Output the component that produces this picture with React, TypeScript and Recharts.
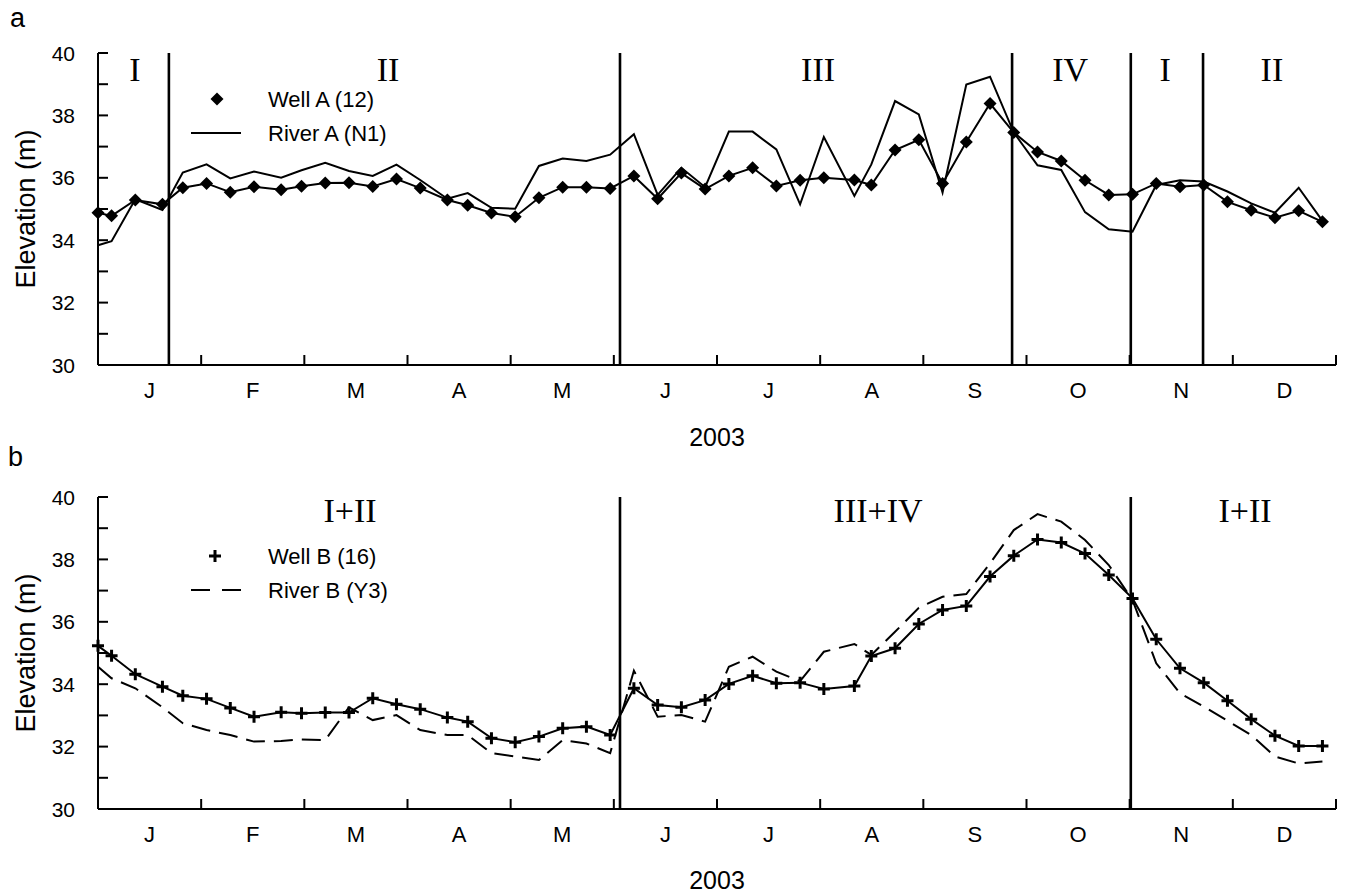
import { Legend, Line, LineChart, ReferenceLine, XAxis, YAxis } from 'recharts';

// sampling days (same dates for both wells), 2003
const DAYS = [
  0, 4, 11, 19, 25, 32, 39, 46, 54, 60, 67, 74, 81, 88, 95, 103, 109, 116, 123, 130, 137, 144, 151,
  158, 165, 172, 179, 186, 193, 200, 207, 214, 223, 228, 235, 242, 249, 256, 263, 270, 277, 284,
  291, 298, 305, 312, 319, 326, 333, 340, 347, 354, 361,
];

const WELL_A = [
  34.88, 34.78, 35.29, 35.15, 35.68, 35.82, 35.54, 35.71, 35.62, 35.73, 35.83, 35.84, 35.72, 35.96,
  35.67, 35.29, 35.12, 34.87, 34.75, 35.36, 35.7, 35.7, 35.66, 36.06, 35.33, 36.15, 35.64, 36.06,
  36.32, 35.74, 35.92, 36.0, 35.93, 35.77, 36.89, 37.22, 35.82, 37.15, 38.38, 37.45, 36.83, 36.54,
  35.92, 35.45, 35.47, 35.82, 35.71, 35.77, 35.23, 34.96, 34.72, 34.94, 34.59,
];
const RIVER_A = [
  33.84, 33.97, 35.31, 34.97, 36.17, 36.43, 35.98, 36.2, 36.0, 36.24, 36.48, 36.22, 36.06, 36.42,
  35.93, 35.33, 35.51, 35.04, 35.01, 36.38, 36.62, 36.54, 36.74, 37.4, 35.45, 36.32, 35.7, 37.48,
  37.48, 36.91, 35.15, 37.31, 35.42, 36.43, 38.46, 38.03, 35.53, 38.99, 39.24, 37.45, 36.4, 36.25,
  34.9, 34.35, 34.27, 35.77, 35.92, 35.88, 35.56, 35.18, 34.88, 35.68, 34.62,
];
const WELL_B = [
  35.23, 34.91, 34.32, 33.92, 33.63, 33.53, 33.24, 32.96, 33.1, 33.07, 33.09, 33.09, 33.55, 33.36,
  33.2, 32.93, 32.8, 32.27, 32.14, 32.32, 32.59, 32.64, 32.37, 33.87, 33.33, 33.26, 33.49, 34.01,
  34.27, 34.03, 34.05, 33.85, 33.94, 34.9, 35.15, 35.93, 36.38, 36.51, 37.45, 38.12, 38.64, 38.54,
  38.19, 37.5, 36.75, 35.44, 34.51, 34.05, 33.47, 32.88, 32.35, 32.02, 32.02,
];
const RIVER_B = [
  34.56, 34.19, 33.87, 33.26, 32.75, 32.53, 32.37, 32.16, 32.18, 32.23, 32.21, 33.26, 32.85, 33.01,
  32.53, 32.37, 32.37, 31.79, 31.68, 31.57, 32.21, 32.1, 31.79, 34.43, 32.96, 33.01, 32.8, 34.56,
  34.88, 34.4, 34.1, 35.04, 35.29, 34.94, 35.68, 36.45, 36.8, 36.89, 37.87, 38.94, 39.45, 39.21,
  38.62, 37.82, 36.7, 34.67, 33.71, 33.28, 32.83, 32.37, 31.68, 31.46, 31.52,
];

const MONTHS = ['J', 'F', 'M', 'A', 'M', 'J', 'J', 'A', 'S', 'O', 'N', 'D'];
const ELEV_TICKS = [30, 31, 32, 33, 34, 35, 36, 37, 38, 39, 40];

// period boundaries and period names (day of year)
const BOUNDS_A = [20.9, 153.9, 269.5, 304.5, 325.8];
const NAMES_A = ['I', 'II', 'III', 'IV', 'I', 'II'];
const NAME_DAYS_A = [10.9, 85.5, 212.3, 286.6, 314.6, 346.1];
const BOUNDS_B = [153.9, 304.5];
const NAMES_B = ['I+II', 'III+IV', 'I+II'];
const NAME_DAYS_B = [74.3, 230, 338.2];

const YEAR = 365;
// month boundaries plus mid-month label positions
const X_TICKS = Array.from({ length: 25 }, (_, i) => (i * YEAR) / 24);

const SANS = '"Liberation Sans", Arial, Helvetica, sans-serif';
const SERIF = '"Liberation Serif", "Times New Roman", serif';
const INK = '#000';

const dataA = DAYS.map((day, i) => ({ day, well: WELL_A[i], river: RIVER_A[i] }));
const dataB = DAYS.map((day, i) => ({ day, well: WELL_B[i], river: RIVER_B[i] }));

function MonthTick(props: any) {
  const { x, y, payload } = props;
  const idx = Math.round((payload.value * 24) / YEAR);
  if (idx % 2 === 0) {
    return <line x1={x} x2={x} y1={y} y2={y - 10} stroke={INK} strokeWidth={2} />;
  }
  return (
    <text x={x} y={y + 33} textAnchor="middle" fontSize={22} fontFamily={SANS} fill={INK}>
      {MONTHS[(idx - 1) / 2]}
    </text>
  );
}

function ElevTick(props: any) {
  const { x, y, payload } = props;
  return (
    <g>
      <line x1={x} x2={x + 10} y1={y} y2={y} stroke={INK} strokeWidth={2} />
      {payload.value % 2 === 0 && (
        <text x={x - 23} y={y} dy="0.36em" textAnchor="end" fontSize={21} fontFamily={SANS} fill={INK}>
          {payload.value}
        </text>
      )}
    </g>
  );
}

function diamond(props: any) {
  const { cx, cy, index } = props;
  const r = 6.5;
  return (
    <path
      key={`dia-${index}`}
      d={`M${cx},${cy - r}L${cx + r},${cy}L${cx},${cy + r}L${cx - r},${cy}Z`}
      fill={INK}
    />
  );
}

function plus(props: any) {
  const { cx, cy, index } = props;
  const r = 6;
  return (
    <path
      key={`plus-${index}`}
      d={`M${cx - r},${cy}H${cx + r}M${cx},${cy - r}V${cy + r}`}
      stroke={INK}
      strokeWidth={3}
      fill="none"
    />
  );
}

function yLabel(props: any) {
  const vb = props.viewBox;
  return (
    <text
      transform={`translate(${vb.x + 26}, ${vb.y + vb.height / 2}) rotate(-90)`}
      textAnchor="middle"
      dominantBaseline="central"
      fontSize={27}
      fontFamily={SANS}
      fill={INK}
    >
      Elevation (m)
    </text>
  );
}

type KeyRow = { label: string; kind: 'diamond' | 'plus' | 'solid' | 'dashed' };

function SeriesKey({ rows }: { rows: KeyRow[] }) {
  return (
    <svg width={260} height={75}>
      {rows.map((row, i) => {
        const cy = 19 + i * 34;
        let icon;
        if (row.kind === 'diamond') icon = diamond({ cx: 37, cy, index: i });
        else if (row.kind === 'plus') icon = plus({ cx: 35, cy, index: i });
        else
          icon = (
            <line
              x1={11}
              x2={61}
              y1={cy}
              y2={cy}
              stroke={INK}
              strokeWidth={2}
              strokeDasharray={row.kind === 'dashed' ? '19 12' : undefined}
            />
          );
        return (
          <g key={row.label}>
            {icon}
            <text x={88} y={cy} dy="0.36em" fontSize={22} fontFamily={SANS} fill={INK}>
              {row.label}
            </text>
          </g>
        );
      })}
    </svg>
  );
}

type PanelProps = {
  data: { day: number; well: number; river: number }[];
  height: number;
  top: number;
  xAxisHeight: number;
  bounds: number[];
  names: string[];
  nameDays: number[];
  nameOffset: number;
  wellDot: (p: any) => JSX.Element;
  riverDash?: string;
  keyRows: KeyRow[];
  keyTop: number;
};

function Panel(p: PanelProps) {
  return (
    <LineChart
      width={1346}
      height={p.height}
      data={p.data}
      margin={{ top: p.top, right: 10, left: 0, bottom: 0 }}
    >
      <XAxis
        dataKey="day"
        type="number"
        domain={[0, YEAR]}
        ticks={X_TICKS}
        interval={0}
        height={p.xAxisHeight}
        tickSize={0}
        tickMargin={0}
        tickLine={false}
        tick={MonthTick}
        axisLine={{ stroke: INK, strokeWidth: 2 }}
        label={{
          value: '2003',
          position: 'insideBottom',
          offset: 4,
          fontSize: 25,
          fontFamily: SANS,
          fill: INK,
        }}
      />
      <YAxis
        type="number"
        domain={[30, 40]}
        ticks={ELEV_TICKS}
        interval={0}
        width={98}
        tickSize={0}
        tickMargin={0}
        tickLine={false}
        tick={ElevTick}
        axisLine={{ stroke: INK, strokeWidth: 2 }}
        label={yLabel}
      />
      {p.bounds.map((d) => (
        <ReferenceLine key={`b-${d}`} x={d} stroke={INK} strokeWidth={2.6} />
      ))}
      {p.names.map((name, i) => (
        <ReferenceLine
          key={`n-${i}`}
          x={p.nameDays[i]}
          stroke="none"
          label={{
            value: name,
            position: 'insideTop',
            offset: p.nameOffset,
            fontSize: 34,
            fontFamily: SERIF,
            fill: INK,
          }}
        />
      ))}
      <Legend
        layout="horizontal"
        verticalAlign="middle"
        align="center"
        wrapperStyle={{ left: 180, top: p.keyTop, width: 260, height: 75 }}
        content={() => <SeriesKey rows={p.keyRows} />}
      />
      <Line
        dataKey="river"
        name={p.keyRows[1].label}
        stroke={INK}
        strokeWidth={2}
        strokeDasharray={p.riverDash}
        dot={false}
        activeDot={false}
        isAnimationActive={false}
      />
      <Line
        dataKey="well"
        name={p.keyRows[0].label}
        stroke={INK}
        strokeWidth={2}
        dot={p.wellDot}
        activeDot={false}
        isAnimationActive={false}
      />
    </LineChart>
  );
}

export default function App() {
  return (
    <div style={{ position: 'absolute', left: 0, top: 0, width: 1346, height: 893, background: '#fff' }}>
      <div style={{ position: 'absolute', left: 0, top: 0 }}>
        <Panel
          data={dataA}
          height={450}
          top={53}
          xAxisHeight={85}
          bounds={BOUNDS_A}
          names={NAMES_A}
          nameDays={NAME_DAYS_A}
          nameOffset={4}
          wellDot={diamond}
          keyRows={[
            { label: 'Well A (12)', kind: 'diamond' },
            { label: 'River A (N1)', kind: 'solid' },
          ]}
          keyTop={80}
        />
      </div>
      <div style={{ position: 'absolute', left: 0, top: 445 }}>
        <Panel
          data={dataB}
          height={448}
          top={52}
          xAxisHeight={84}
          bounds={BOUNDS_B}
          names={NAMES_B}
          nameDays={NAME_DAYS_B}
          nameOffset={1}
          wellDot={plus}
          riverDash="19 9"
          keyRows={[
            { label: 'Well B (16)', kind: 'plus' },
            { label: 'River B (Y3)', kind: 'dashed' },
          ]}
          keyTop={92}
        />
      </div>
      <div style={{ position: 'absolute', left: 10, top: 5, fontFamily: SANS, fontSize: 27, lineHeight: '27px' }}>
        a
      </div>
      <div style={{ position: 'absolute', left: 8, top: 444, fontFamily: SANS, fontSize: 27, lineHeight: '27px' }}>
        b
      </div>
    </div>
  );
}
